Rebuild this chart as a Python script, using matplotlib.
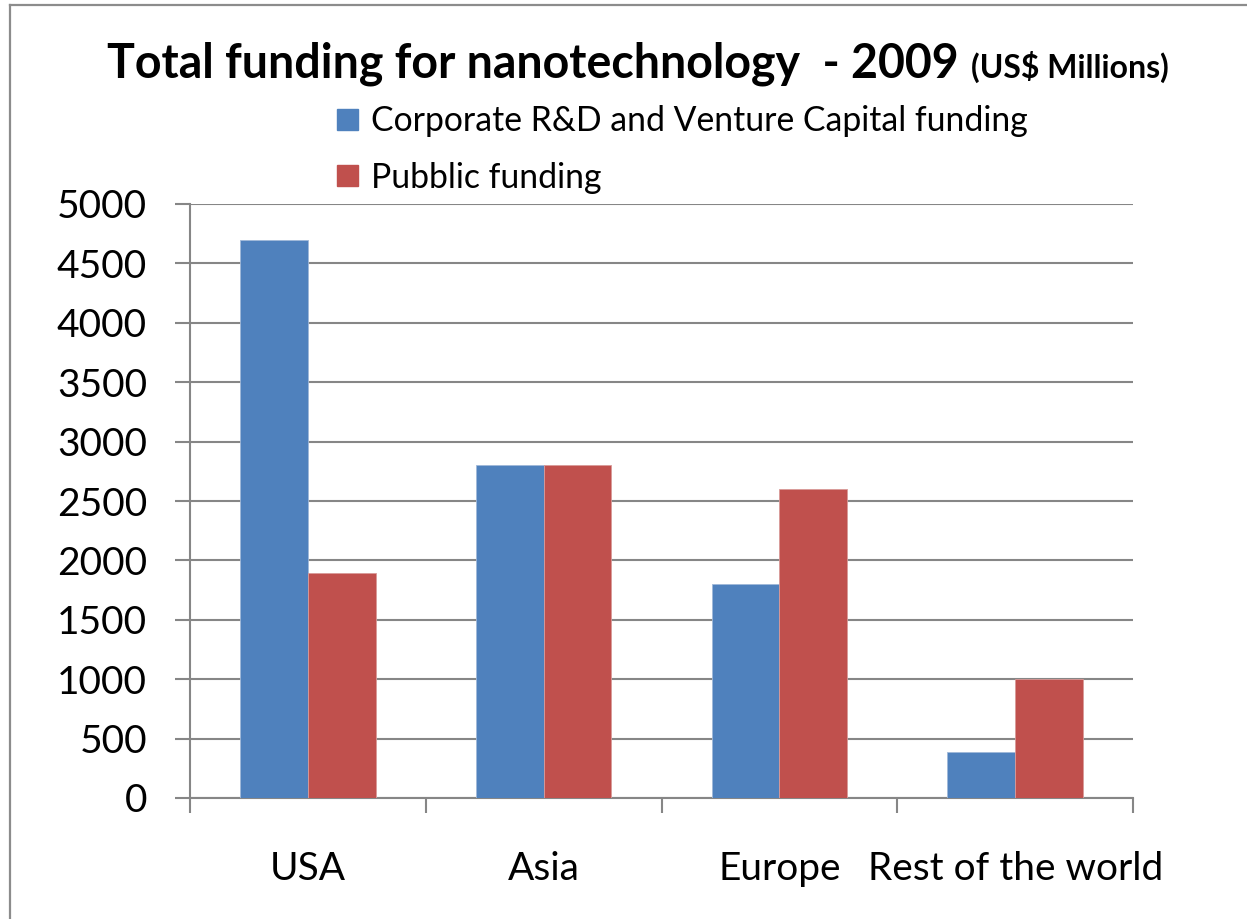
import numpy as np
import matplotlib.pyplot as plt
from matplotlib.lines import Line2D
from matplotlib.patches import Patch

# regions and funding (US$ millions)
regions = ['USA', 'Asia', 'Europe', 'Rest of the world']
corporate = [4700, 2800, 1800, 390]
public = [1890, 2800, 2600, 1000]
series_names = ['Corporate R&D and Venture Capital funding', 'Pubblic funding']
yticks = list(range(0, 5001, 500))

blue = '#4F81BD'
red = '#C0504D'
grey = '#868686'

plt.rcParams['font.family'] = ['Lato', 'DejaVu Sans']

W, H = 1247, 919
fig = plt.figure(figsize=(W / 100, H / 100), dpi=100)
ax = fig.add_axes([190 / W, 1 - 798 / H, (1133 - 190) / W, (798 - 204) / H])

x = np.arange(len(regions))
bw = 0.287
ax.bar(x - bw / 2, corporate, bw, color=blue, edgecolor='#9fb8d9', linewidth=0.6, zorder=3)
ax.bar(x + bw / 2, public, bw, color=red, edgecolor='#d99a98', linewidth=0.6, zorder=3)

ax.set_xlim(-0.5, len(regions) - 0.5)
ax.set_ylim(0, 5000)
ax.set_yticks(yticks)
ax.set_yticklabels([str(v) for v in yticks], fontsize=28)
ax.yaxis.grid(True, color=grey, linewidth=1.5, zorder=0)
ax.set_axisbelow(True)

# category labels centred, tick marks at the boundaries
ax.set_xticks(x)
ax.set_xticklabels(regions, fontsize=28)
ax.tick_params(axis='x', which='major', length=0, pad=38)
ax.set_xticks(np.arange(-0.5, len(regions), 1.0), minor=True)
ax.tick_params(axis='x', which='minor', length=11, width=1.5, color=grey)
ax.tick_params(axis='y', length=11, width=1.5, color=grey, pad=20)

for side in ['top', 'right']:
    ax.spines[side].set_visible(False)
for side in ['left', 'bottom']:
    ax.spines[side].set_color(grey)
    ax.spines[side].set_linewidth(1.5)

# title: bold main part followed by a smaller unit note
t1 = fig.text(107 / W, 1 - 78 / H, 'Total funding for nanotechnology  - 2009',
              fontsize=33.5, fontweight='bold', ha='left', va='baseline')
fig.canvas.draw()
bb = t1.get_window_extent()
fig.text((bb.x1 + 12) / W, 1 - 78 / H, '(US$ Millions)',
         fontsize=23, fontweight='bold', ha='left', va='baseline')

handles = [Patch(color=blue), Patch(color=red)]
fig.legend(handles, series_names, loc='upper left',
           bbox_to_anchor=(307 / W, 1 - 75 / H), frameon=False, fontsize=24.3,
           handlelength=0.6, handleheight=0.6, handletextpad=0.4, labelspacing=0.72)

# outer chart frame
fig.add_artist(Line2D([10 / W, 10 / W], [0, 1 - 5 / H], color='#8c8c8c', lw=1.6))
fig.add_artist(Line2D([10 / W, 1], [1 - 5 / H, 1 - 5 / H], color='#8c8c8c', lw=1.6))

fig.savefig('out.png', dpi=100)
